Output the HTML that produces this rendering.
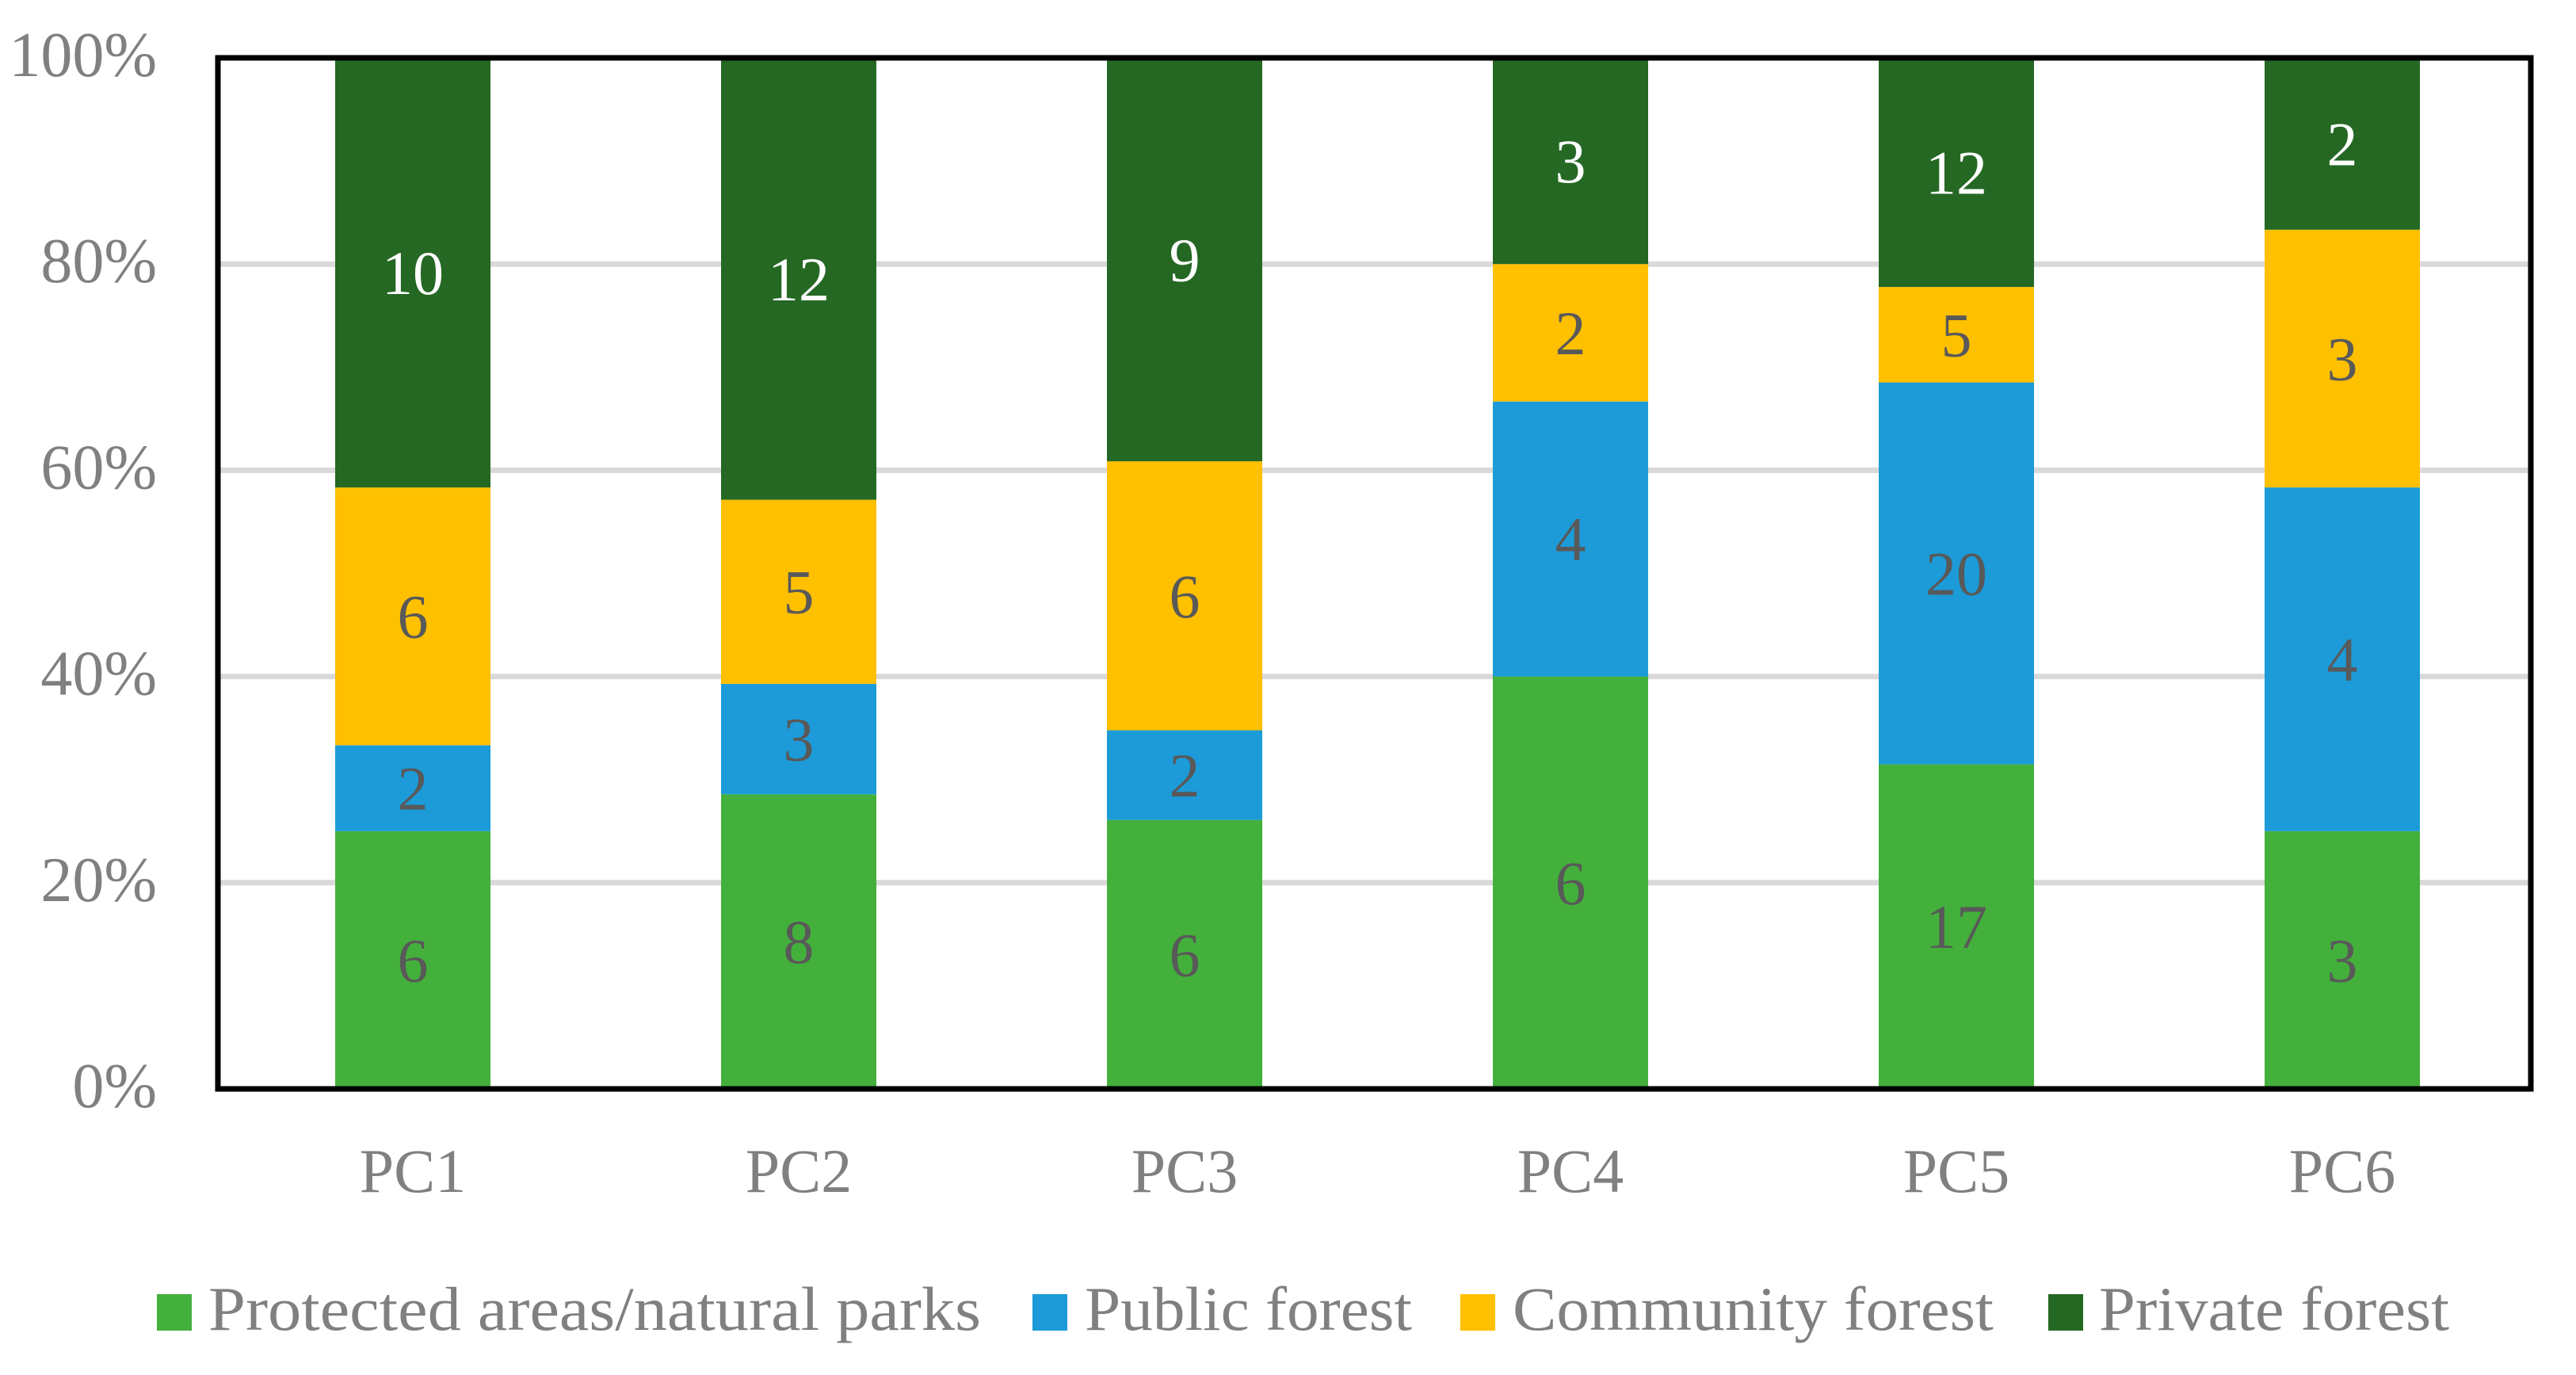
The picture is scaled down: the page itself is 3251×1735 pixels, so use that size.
<!DOCTYPE html>
<html><head><meta charset="utf-8"><style>
html,body{margin:0;padding:0;background:#fff;}
svg{display:block;font-family:"Liberation Serif",serif;}
</style></head><body>
<svg id="chart" width="3251" height="1735" viewBox="0 0 3251 1735" xmlns="http://www.w3.org/2000/svg">
<g id="grid"></g><g id="bars"></g><g id="labels"></g><g id="axes"></g><g id="legend"></g>
</svg>
<script>
const categories = ["PC1","PC2","PC3","PC4","PC5","PC6"];
const seriesNames = ["Protected areas/natural parks","Public forest","Community forest","Private forest"];
const protectedVals = [6,8,6,6,17,3];
const publicVals = [2,3,2,4,20,4];
const communityVals = [6,5,6,2,5,3];
const privateVals = [10,12,9,3,12,2];
const yTicks = [0,20,40,60,80,100];
const yTickLabels = ["0%","20%","40%","60%","80%","100%"];

const colors = ["#43b03c","#1c9bd8","#ffc000","#256824"];
const labelColors = ["#595959","#595959","#595959","#ffffff"];
const series = [protectedVals, publicVals, communityVals, privateVals];
const L = 275, R = 3194, T = 73, B = 1374;
const NS = "http://www.w3.org/2000/svg";
const pitch = 487;
const firstCenter = 521;
const barW = 196;
function y(p){ return B - (B - T) * p / 100; }
function xc(i){ return firstCenter + pitch * i; }
function mk(tag, attrs, parent, text){
  const e = document.createElementNS(NS, tag);
  for (const k in attrs) e.setAttribute(k, attrs[k]);
  if (text !== undefined) e.textContent = text;
  document.getElementById(parent).appendChild(e);
  return e;
}
yTicks.forEach((t, i) => {
  const g = mk("line", {x1:L, x2:R, y1:y(t), y2:y(t), stroke:"#d9d9d9", "stroke-width":7}, "grid");
  
  
  const lb = mk("text", {x:198, y:y(t)+23, "text-anchor":"end", "font-size":80, fill:"#808080"}, "axes", yTickLabels[i]);
  
  
});
categories.forEach((c, i) => {
  const total = series.reduce((s, arr) => s + arr[i], 0);
  let acc = 0;
  series.forEach((arr, si) => {
    const v = arr[i];
    const p0 = acc / total * 100, p1 = (acc + v) / total * 100;
    acc += v;
    const r = mk("rect", {x:xc(i)-barW/2, y:y(p1), width:barW, height:y(p0)-y(p1), fill:colors[si]}, "bars");
    
    
    const t = mk("text", {x:xc(i), y:(y(p0)+y(p1))/2+27, "text-anchor":"middle", "font-size":78, fill:labelColors[si]}, "labels", String(v));
    
    
  });
  const xl = mk("text", {x:xc(i), y:1504, "text-anchor":"middle", "font-size":78, fill:"#808080"}, "axes", c);
  
  
});
const frame = mk("rect", {x:L, y:T, width:R-L, height:B-T, fill:"none", stroke:"#000", "stroke-width":7}, "axes");


const legSw = [198, 1303, 1843, 2585];
const legTx = [263, 1369, 1909, 2649];
const legW = [975, 413, 607, 442];
seriesNames.forEach((n, i) => {
  const s = mk("rect", {x:legSw[i], y:1633, width:44, height:46, fill:colors[i]}, "legend");
  
  
  const t = mk("text", {x:legTx[i], y:1678, "font-size":78, fill:"#808080", textLength:legW[i], lengthAdjust:"spacingAndGlyphs"}, "legend", n);
  
  
});
</script>
</body></html>
